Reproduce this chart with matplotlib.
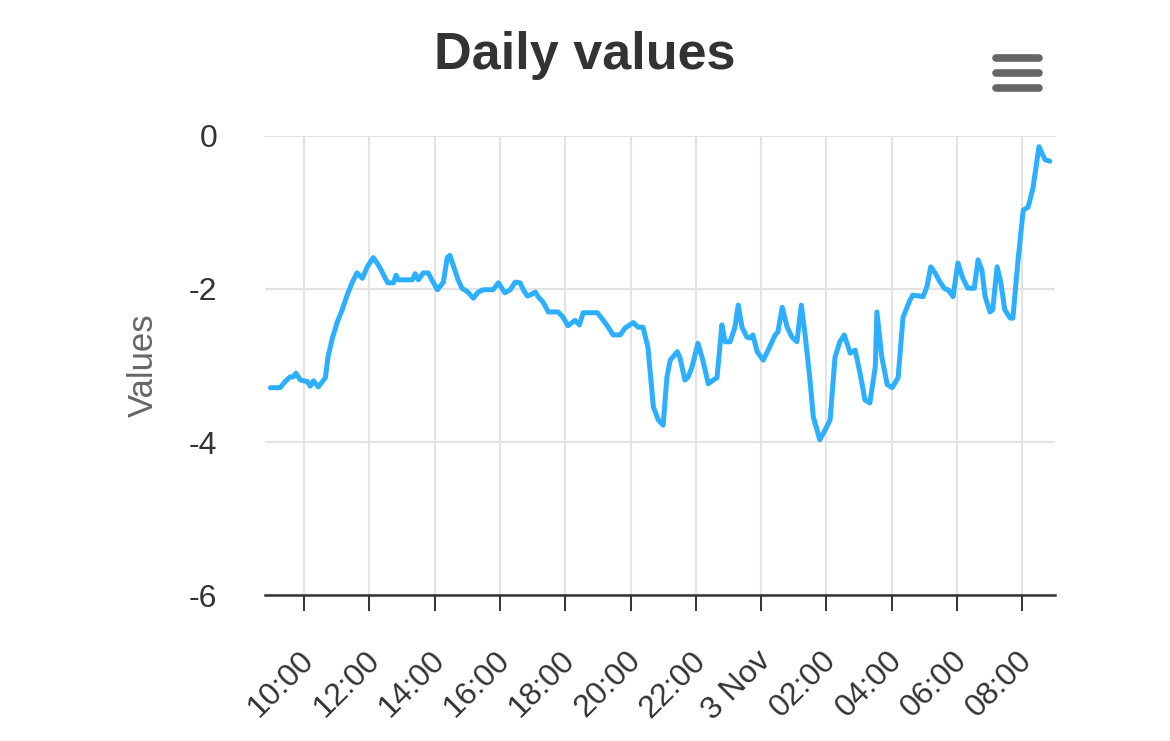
import matplotlib
matplotlib.use("Agg")
from matplotlib import pyplot as plt
from matplotlib.lines import Line2D
from matplotlib.transforms import ScaledTranslation
import pandas as pd

plt.rcParams['font.family'] = ['Liberation Sans', 'DejaVu Sans']

# minutes after 2 Nov 00:00
minutes = [538, 556, 565, 574, 580, 585, 593, 606, 611, 617, 626, 639, 644, 652, 661,
           670, 679, 688, 697, 707, 716, 727, 734, 740, 749, 754, 764, 769, 773, 789,
           799, 804, 810, 819, 828, 837, 845, 856, 863, 868, 874, 883, 890, 901, 911,
           920, 929, 947, 957, 969, 979, 988, 997, 1003, 1010, 1015, 1025, 1030, 1039,
           1049, 1067, 1076, 1085, 1098, 1106, 1113, 1139, 1150, 1159, 1168, 1181, 1190,
           1205, 1214, 1223, 1232, 1242, 1251, 1260, 1267, 1273, 1286, 1291, 1300, 1306,
           1313, 1324, 1333, 1343, 1352, 1359, 1368, 1374, 1383, 1392, 1398, 1405, 1414,
           1420, 1425, 1433, 1444, 1453, 1466, 1471, 1479, 1488, 1497, 1506, 1514, 1521,
           1530, 1536, 1548, 1558, 1567, 1576, 1585, 1593, 1604, 1613, 1622, 1631, 1640,
           1650, 1653, 1662, 1672, 1681, 1692, 1701, 1714, 1719, 1738, 1745, 1752, 1760,
           1769, 1778, 1784, 1793, 1802, 1811, 1820, 1832, 1839, 1846, 1852, 1861, 1866,
           1874, 1881, 1888, 1898, 1903, 1912, 1922, 1931, 1940, 1951, 1962, 1971]
values = [-3.29, -3.29, -3.21, -3.15, -3.15, -3.10, -3.19, -3.21, -3.27, -3.20, -3.28,
          -3.16, -2.88, -2.64, -2.43, -2.27, -2.08, -1.92, -1.79, -1.86, -1.71, -1.59,
          -1.66, -1.73, -1.86, -1.92, -1.92, -1.82, -1.88, -1.88, -1.88, -1.80, -1.88,
          -1.79, -1.79, -1.91, -2.01, -1.91, -1.59, -1.56, -1.69, -1.88, -1.99, -2.04,
          -2.12, -2.04, -2.01, -2.01, -1.92, -2.05, -2.01, -1.91, -1.92, -2.01, -2.09,
          -2.08, -2.04, -2.10, -2.17, -2.30, -2.30, -2.37, -2.48, -2.41, -2.47, -2.31,
          -2.31, -2.41, -2.50, -2.60, -2.60, -2.51, -2.44, -2.50, -2.50, -2.76, -3.54,
          -3.71, -3.78, -3.15, -2.93, -2.82, -2.90, -3.19, -3.15, -3.02, -2.71, -2.93,
          -3.24, -3.19, -3.16, -2.47, -2.69, -2.69, -2.50, -2.21, -2.50, -2.63, -2.64,
          -2.60, -2.82, -2.93, -2.80, -2.60, -2.56, -2.24, -2.50, -2.63, -2.69, -2.21,
          -2.60, -3.19, -3.67, -3.97, -3.84, -3.71, -2.89, -2.69, -2.60, -2.84, -2.80,
          -3.10, -3.45, -3.49, -3.02, -2.30, -2.89, -3.25, -3.29, -3.16, -2.37, -2.14,
          -2.08, -2.10, -1.97, -1.71, -1.79, -1.91, -2.00, -2.01, -2.10, -1.66, -1.86,
          -1.99, -1.99, -1.62, -1.75, -2.10, -2.30, -2.27, -1.71, -1.92, -2.27, -2.38,
          -2.38, -1.66, -0.97, -0.93, -0.68, -0.14, -0.31, -0.33]

y_ticks = [0, -2, -4, -6]
tick_hours = list(range(10, 33, 2))

day0 = pd.Timestamp("2023-11-02")
times = [day0 + pd.Timedelta(minutes=m) for m in minutes]

fig = plt.figure(figsize=(11.7, 7.41), dpi=100)
ax = fig.add_axes([0.2265, 0.197, 0.675, 0.6195])

ax.plot(times, values, color="#2caffe", lw=3.6, solid_joinstyle="round", solid_capstyle="round")

ax.set_ylim(-6, 0)
ax.set_yticks(y_ticks)
ax.set_yticklabels([str(v) for v in y_ticks])
ax.set_xlim(day0 + pd.Timedelta(minutes=528), day0 + pd.Timedelta(minutes=1980))

ticks = [day0 + pd.Timedelta(hours=h) for h in tick_hours]
ax.set_xticks(ticks)
ax.set_xticklabels([t.strftime("%H:%M") if t.hour != 0 else f"{t.day} {t.strftime('%b')}"
                    for t in ticks])

ax.grid(True, color="#e3e3e3", lw=1.5)
ax.set_axisbelow(True)
for s in ["top", "right", "left"]:
    ax.spines[s].set_visible(False)
ax.spines["bottom"].set_color("#333333")
ax.spines["bottom"].set_linewidth(1.8)

ax.tick_params(axis="y", length=0, pad=34.5, labelsize=23, labelcolor="#333333")
ax.tick_params(axis="x", length=11.5, width=1.4, color="#333333", pad=25,
               labelsize=23, labelcolor="#333333")
shift = ScaledTranslation(-0.05, 0, fig.dpi_scale_trans)
for lab in ax.get_xticklabels():
    lab.set_rotation(45)
    lab.set_ha("right")
    lab.set_va("top")
    lab.set_rotation_mode("anchor")
    lab.set_transform(lab.get_transform() + shift)

ax.set_ylabel("Values", fontsize=25, color="#666666")
ax.yaxis.set_label_coords(-0.133, 0.5)

fig.text(0.5, 0.907, "Daily values", ha="center", va="baseline", fontsize=37.5,
         fontweight="bold", color="#333333")

# menu icon
for yy in [58, 73, 88]:
    fig.add_artist(Line2D([996 / 1170, 1039 / 1170], [1 - yy / 741, 1 - yy / 741],
                          color="#666666", lw=5.5, solid_capstyle="round"))

fig.savefig("out.png", dpi=100)
